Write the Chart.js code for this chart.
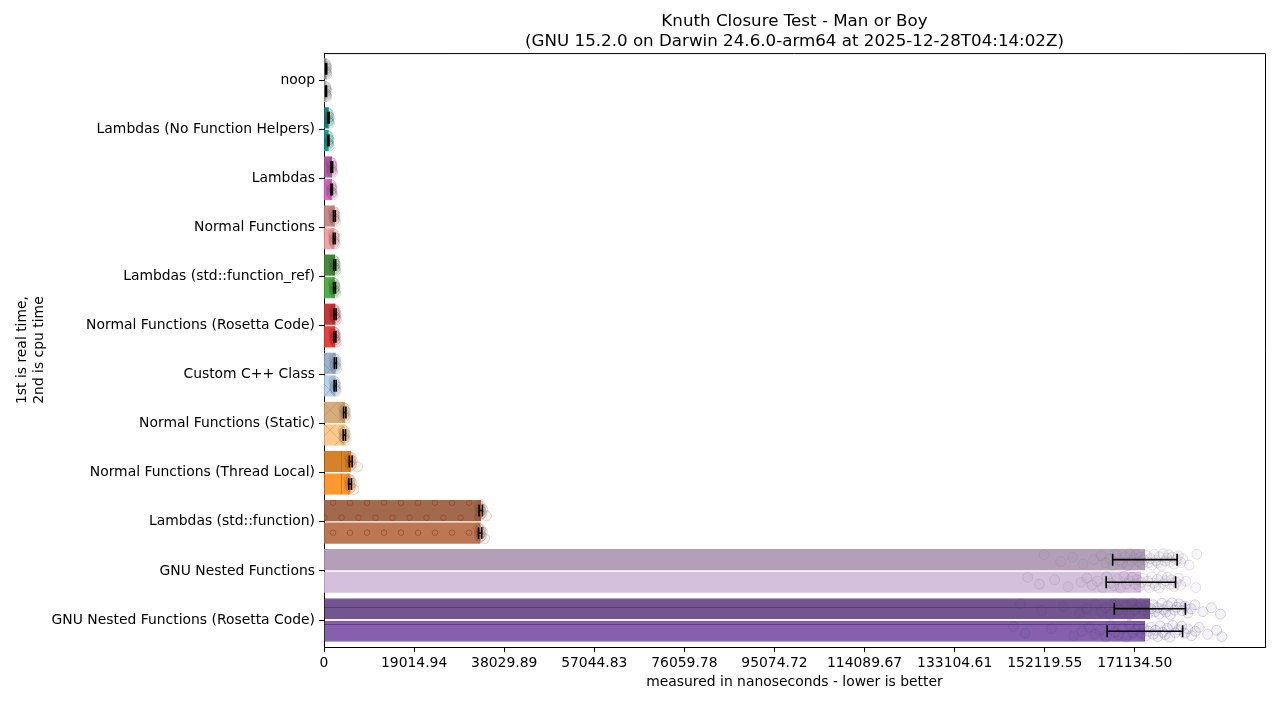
<!DOCTYPE html>
<html>
<head>
<meta charset="utf-8">
<script src="https://cdn.jsdelivr.net/npm/chart.js@4.4.1/dist/chart.umd.min.js"></script>
<style>
  html, body { margin: 0; padding: 0; background: #fff; }
  #wrap { width: 1280px; height: 720px; }
</style>
</head>
<body>
<div id="wrap"><canvas id="knuthChart"></canvas></div>
<script>
// benchmark names, top to bottom
const categories = [
  'noop',
  'Lambdas (No Function Helpers)',
  'Lambdas',
  'Normal Functions',
  'Lambdas (std::function_ref)',
  'Normal Functions (Rosetta Code)',
  'Custom C++ Class',
  'Normal Functions (Static)',
  'Normal Functions (Thread Local)',
  'Lambdas (std::function)',
  'GNU Nested Functions',
  'GNU Nested Functions (Rosetta Code)'
];

// mean times in ns (1st bar real time, 2nd bar cpu time)
const realTime = [450, 930, 1630, 2190, 2260, 2330, 2400, 4370, 5640, 33080, 173250, 174300];
const cpuTime = [420, 900, 1600, 2150, 2220, 2300, 2350, 4300, 5500, 32950, 172400, 173250];

// standard deviation for the error bars
const realErr = [120, 150, 180, 200, 200, 220, 220, 250, 300, 350, 6800, 7500];
const cpuErr = [110, 140, 170, 190, 200, 210, 210, 240, 280, 340, 7320, 7960];

// individual repetitions
const realSamples = [
  [250, 330, 380, 420, 450, 480, 520, 560, 600],
  [700, 800, 850, 900, 930, 960, 1000, 1080, 1150],
  [1400, 1500, 1550, 1600, 1630, 1660, 1700, 1780, 1850],
  [1950, 2050, 2100, 2150, 2190, 2230, 2280, 2360, 2450],
  [2000, 2100, 2150, 2220, 2260, 2300, 2350, 2420, 2500],
  [2100, 2200, 2250, 2300, 2330, 2370, 2420, 2500, 2600],
  [2150, 2250, 2300, 2360, 2400, 2440, 2480, 2560, 2650],
  [4100, 4200, 4250, 4320, 4370, 4420, 4480, 4560, 4650],
  [5300, 5420, 5500, 5580, 5640, 5700, 5800, 5950, 7100],
  [32700, 32850, 32900, 33000, 33100, 33180, 33300, 33500, 34300],
  [152000, 155500, 158000, 160200, 162500, 164000, 165000, 165800, 166500, 167000, 168000, 168500, 169000,
   169600, 170100, 170500, 171000, 171400, 171900, 172300, 172700, 173100, 173600, 174000, 174400, 174800,
   175200, 175600, 176000, 176300, 176700, 177100, 177500, 177900, 178300, 178600, 179000, 179400, 179900,
   180300, 180800, 181200, 182600, 184200],
  [147000, 151500, 156000, 159500, 161000, 162800, 164000, 165000, 166000, 166900, 167700, 168500, 169300,
   170000, 170600, 171200, 171800, 172400, 173000, 173500, 174000, 174500, 175000, 175400, 175900, 176300,
   176800, 177200, 177700, 178100, 178600, 179000, 179500, 180000, 180500, 181100, 181700, 182300, 183000,
   183800, 185500, 187300, 189200]
];
const cpuSamples = [
  [260, 320, 370, 400, 430, 460, 500, 540, 580],
  [680, 780, 820, 860, 900, 940, 980, 1050, 1120],
  [1380, 1480, 1520, 1560, 1600, 1640, 1680, 1750, 1820],
  [1920, 2020, 2060, 2110, 2150, 2190, 2240, 2320, 2400],
  [1980, 2080, 2120, 2170, 2220, 2260, 2310, 2390, 2460],
  [2080, 2170, 2220, 2260, 2300, 2340, 2390, 2470, 2560],
  [2100, 2200, 2260, 2310, 2350, 2390, 2440, 2520, 2600],
  [4050, 4150, 4200, 4250, 4300, 4350, 4400, 4500, 4600],
  [5250, 5350, 5400, 5450, 5500, 5580, 5700, 5900, 6300],
  [32600, 32750, 32850, 32920, 33000, 33080, 33200, 33400, 33900],
  [148500, 151000, 154200, 157000, 159800, 161000, 162100, 163200, 164300, 165200, 166000, 166700, 167400,
   168100, 168800, 169400, 170000, 170600, 171100, 171600, 172000, 172500, 172900, 173400, 173800, 174200,
   174700, 175100, 175500, 175900, 176300, 176800, 177200, 177600, 178000, 178500, 178900, 179400, 179800,
   180300, 180800, 181900, 184000],
  [145500, 148000, 153500, 158200, 160000, 161500, 162700, 163800, 165000, 166000, 166900, 167700, 168500,
   169300, 170000, 170700, 171300, 171900, 172500, 173000, 173500, 174000, 174500, 175000, 175500, 176000,
   176500, 177000, 177500, 178000, 178500, 179100, 179700, 180300, 181000, 181600, 182300, 183100, 183900,
   184700, 186500, 188400, 189500]
];

const xTickValues = [0, 19014.94, 38029.89, 57044.83, 76059.78, 95074.72, 114089.67, 133104.61, 152119.55, 171134.50];
const xTickLabels = ['0', '19014.94', '38029.89', '57044.83', '76059.78', '95074.72', '114089.67', '133104.61', '152119.55', '171134.50'];

// colours per benchmark
const realColors = ['#9c9c9c', '#178a80', '#b35ca3', '#c98a8a', '#4a8a3c', '#c33a3a',
  '#9db3c6', '#d4ad7b', '#d5832b', '#a26a4c', '#b3a0b8', '#735690'];
const cpuColors = ['#c4c4c4', '#17b0a0', '#e667c8', '#f7a3a3', '#4fb043', '#e8413f',
  '#b7d4ea', '#fdc98c', '#ff982e', '#bd7853', '#d4bfdc', '#8660ae'];
const pointColors = ['#666666', '#0f6f66', '#8f3d80', '#9c5a5a', '#2f6a26', '#8f1f1f',
  '#5d7c96', '#9c7038', '#b05a10', '#7a4326', '#8c7a98', '#5c4080'];
const hatches = [null, null, null, null, null, null, 'x', 'x', '|', 'o', null, '-'];
const hatchColors = [null, null, null, null, null, null, 'rgba(90,120,150,0.35)', 'rgba(190,130,70,0.35)',
  'rgba(190,95,10,0.55)', 'rgba(140,65,35,0.6)', null, 'rgba(80,45,120,0.7)'];

// build a fill pattern: base colour plus a matplotlib-like hatch
function makeHatch(base, kind, color) {
  const c = document.createElement('canvas');
  let w = 20, h = 20;
  if (kind === 'o') { w = 17; h = 30; }
  if (kind === '|') { w = 17; h = 17; }
  if (kind === '-') { w = 17; h = 17; }
  c.width = w; c.height = h;
  const g = c.getContext('2d');
  g.fillStyle = base;
  g.fillRect(0, 0, w, h);
  g.strokeStyle = color;
  g.lineWidth = 1;
  if (kind === 'x') {
    g.beginPath();
    g.moveTo(0, 0); g.lineTo(w, h);
    g.moveTo(w, 0); g.lineTo(0, h);
    g.stroke();
  } else if (kind === '|') {
    g.beginPath(); g.moveTo(1.5, 0); g.lineTo(1.5, h); g.stroke();
  } else if (kind === '-') {
    g.beginPath(); g.moveTo(0, 12.5); g.lineTo(w, 12.5); g.stroke();
  } else if (kind === 'o') {
    const spots = [[10, 22.7], [1.5, 7.7]];
    spots.forEach(([sx, sy]) => {
      [-w, 0, w].forEach(dx => [-h, 0, h].forEach(dy => {
        g.beginPath();
        g.arc(sx + dx, sy + dy, 2.8, 0, Math.PI * 2);
        g.stroke();
      }));
    });
  }
  return g.createPattern(c, 'repeat');
}

const realFill = realColors.map((col, i) => hatches[i] ? makeHatch(col, hatches[i], hatchColors[i]) : col);
const cpuFill = cpuColors.map((col, i) => hatches[i] ? makeHatch(col, hatches[i], hatchColors[i]) : col);

// real bar sits above the category line, cpu bar below it
const slot = 0.23;
// small vertical jitter for the sample dots
const jitter = [-0.1, 0.04, -0.05, 0.09, 0.0, -0.08, 0.06, -0.02, 0.11, -0.11, 0.02, 0.07, -0.06, 0.12, -0.12, 0.03, -0.03];

const barPoints = (values, side) => values.map((v, i) => ({ x: v, y: i + side * slot }));

function samplePoints(samples, side) {
  const pts = [];
  samples.forEach((list, i) => {
    list.forEach((v, j) => {
      pts.push({ x: v, y: i + side * slot + jitter[j % jitter.length], c: i });
    });
  });
  return pts;
}

function hexA(hex, a) {
  const n = parseInt(hex.slice(1), 16);
  return `rgba(${(n >> 16) & 255},${(n >> 8) & 255},${n & 255},${a})`;
}

// error bars and the closing top/right spines
const errorBarPlugin = {
  id: 'errorBars',
  afterDatasetsDraw(chart) {
    const ctx = chart.ctx;
    const xs = chart.scales.x;
    const ys = chart.scales.y;
    [[realTime, realErr, -1], [cpuTime, cpuErr, 1]].forEach(([means, errs, side]) => {
      means.forEach((m, i) => {
        const y = ys.getPixelForValue(i + side * slot);
        const x1 = xs.getPixelForValue(m - errs[i]);
        const x2 = xs.getPixelForValue(m + errs[i]);
        ctx.save();
        ctx.strokeStyle = '#000';
        ctx.lineWidth = 1.6;
        ctx.beginPath();
        ctx.moveTo(x1, y); ctx.lineTo(x2, y);
        ctx.moveTo(x1, y - 6); ctx.lineTo(x1, y + 6);
        ctx.moveTo(x2, y - 6); ctx.lineTo(x2, y + 6);
        ctx.stroke();
        ctx.restore();
      });
    });
    const a = chart.chartArea;
    ctx.save();
    ctx.strokeStyle = '#000';
    ctx.lineWidth = 1;
    ctx.beginPath();
    ctx.moveTo(a.left, a.top + 0.5); ctx.lineTo(a.right + 0.5, a.top + 0.5); ctx.lineTo(a.right + 0.5, a.bottom);
    ctx.stroke();
    ctx.restore();
  }
};

Chart.defaults.font.family = 'DejaVu Sans';
Chart.defaults.font.size = 13.9;
Chart.defaults.color = '#000';

const ctx = document.getElementById('knuthChart').getContext('2d');

const barBase = {
  indexAxis: 'y',
  grouped: false,
  barThickness: 20.5,
  borderColor: 'rgba(80,45,120,0.8)',
  borderSkipped: 'start',
  xAxisID: 'x',
  yAxisID: 'y',
  order: 3
};

const dotBase = {
  type: 'scatter',
  xAxisID: 'x',
  yAxisID: 'y',
  pointRadius: 5,
  borderWidth: 1,
  backgroundColor: c => hexA(pointColors[c.raw ? c.raw.c : 0], 0.07),
  borderColor: c => hexA(pointColors[c.raw ? c.raw.c : 0], 0.2),
  order: 1
};

new Chart(ctx, {
  type: 'bar',
  data: {
    datasets: [
      Object.assign({}, barBase, {
        label: 'real time',
        data: barPoints(realTime, -1),
        backgroundColor: realFill,
        borderWidth: realTime.map((v, i) => i === 11 ? 1 : 0)
      }),
      Object.assign({}, barBase, {
        label: 'cpu time',
        data: barPoints(cpuTime, 1),
        backgroundColor: cpuFill,
        borderWidth: cpuTime.map((v, i) => i === 11 ? 1 : 0)
      }),
      Object.assign({}, dotBase, { label: 'real samples', data: samplePoints(realSamples, -1) }),
      Object.assign({}, dotBase, { label: 'cpu samples', data: samplePoints(cpuSamples, 1) })
    ]
  },
  options: {
    indexAxis: 'y',
    responsive: true,
    maintainAspectRatio: false,
    animation: false,
    devicePixelRatio: 1,
    layout: { padding: { left: 0, right: 15, top: 0, bottom: 0 } },
    plugins: {
      legend: { display: false },
      tooltip: { enabled: false },
      title: {
        display: true,
        fullSize: false,
        text: ['Knuth Closure Test - Man or Boy', '(GNU 15.2.0 on Darwin 24.6.0-arm64 at 2025-12-28T04:14:02Z)'],
        font: { size: 16.7, weight: 'normal' },
        color: '#000',
        padding: { top: 12, bottom: 1 }
      }
    },
    scales: {
      x: {
        type: 'linear',
        position: 'bottom',
        offset: false,
        min: 0,
        max: 198600,
        afterBuildTicks: axis => { axis.ticks = xTickValues.map(v => ({ value: v })); },
        afterFit: scale => { scale.height = 73; },
        ticks: {
          autoSkip: false,
          maxRotation: 0,
          padding: 3,
          callback: (v, i) => xTickLabels[i]
        },
        grid: { offset: false, drawOnChartArea: false, color: '#000', tickLength: 5 },
        border: { color: '#000', width: 1 },
        title: {
          display: true,
          text: 'measured in nanoseconds - lower is better',
          padding: { top: 4, bottom: 29 }
        }
      },
      y: {
        type: 'linear',
        position: 'left',
        offset: false,
        reverse: true,
        min: -0.55,
        max: 11.55,
        afterBuildTicks: axis => { axis.ticks = categories.map((n, i) => ({ value: i })); },
        afterFit: scale => { scale.width = 324; },
        ticks: {
          padding: 4,
          autoSkip: false,
          callback: (v, i) => categories[i]
        },
        grid: { offset: false, drawOnChartArea: false, color: '#000', tickLength: 5 },
        border: { color: '#000', width: 1 },
        title: {
          display: true,
          text: ['1st is real time,', '2nd is cpu time'],
          padding: { top: 14, bottom: 0 }
        }
      }
    }
  },
  plugins: [errorBarPlugin]
});
</script>
</body>
</html>
